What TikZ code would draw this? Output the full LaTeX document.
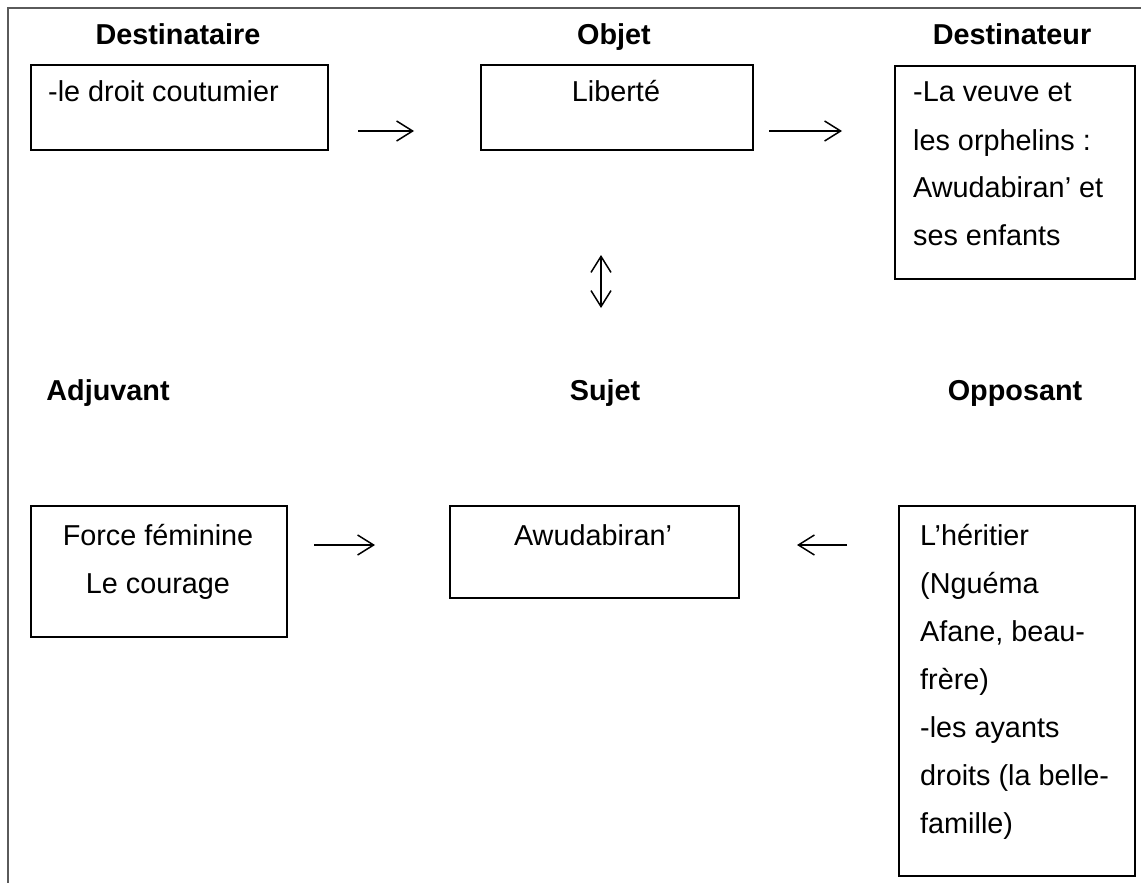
\documentclass[tikz,border=0pt]{standalone}
\usepackage{fontspec}
\setmainfont{Liberation Sans}
\usetikzlibrary{arrows.meta}
\definecolor{framegray}{RGB}{90,90,90}
\tikzset{
  box/.style={draw=black, line width=1.8pt, rectangle, inner sep=0pt, anchor=north west},
  ttl/.style={font=\fontsize{28.8pt}{48pt}\selectfont\bfseries, inner sep=0pt, anchor=base},
  txt/.style={font=\fontsize{28.8pt}{48pt}\selectfont, inner sep=0pt},
  barb/.tip={Straight Barb[length=16pt,width=20pt,line width=1.5pt]},
  arr/.style={line width=1.5pt, -barb},
  darr/.style={line width=1.5pt, barb-barb},
  frameline/.style={draw=framegray, line width=2pt}
}
\begin{document}
\begin{tikzpicture}[x=1pt,y=-1pt]
\useasboundingbox (0,0) rectangle (1141,883);
\draw[frameline] (1141,8) -- (8,8) -- (8,883);

% boxes
\node[box, minimum width=297pt, minimum height=85pt] (b1) at (30,64) {};
\node[box, minimum width=272pt, minimum height=85pt] (b2) at (480,64) {};
\node[box, minimum width=240pt, minimum height=213pt] (b3) at (894,65) {};
\node[box, minimum width=256pt, minimum height=131pt] (b4) at (30,505) {};
\node[box, minimum width=289pt, minimum height=92pt] (b5) at (449,505) {};
\node[box, minimum width=236pt, minimum height=370pt] (b6) at (898,505) {};

% titles
\node[ttl] (tdest) at (178,45) {Destinataire};
\node[ttl] (tobj) at (614,45) {Objet};
\node[ttl] (tdestr) at (1012,45) {Destinateur};
\node[ttl] (tadj) at (108,400) {Adjuvant};
\node[ttl] (tsuj) at (605,400) {Sujet};
\node[ttl] (topp) at (1015,400) {Opposant};

% texts
\node[txt, anchor=base west] (x1) at (48,102) {-le droit coutumier};
\node[txt, anchor=base] (x2) at (616,102) {Liberté};
\node[txt, anchor=base west] (x3) at (913,102) {\vtop{\baselineskip=48pt\hbox{-La veuve et}\hbox{les orphelins :}\hbox{Awudabiran’ et}\hbox{ses enfants}}};
\node[txt, anchor=base] (x4) at (158,545) {\vtop{\baselineskip=48pt\hbox to 0pt{\hss Force féminine\hss}\hbox to 0pt{\hss Le courage\hss}}};
\node[txt, anchor=base] (x5) at (593,545) {Awudabiran’};
\node[txt, anchor=base west] (x6) at (920,545) {\vtop{\baselineskip=48pt\hbox{L’héritier}\hbox{(Nguéma}\hbox{Afane, beau-}\hbox{frère)}\hbox{-les ayants}\hbox{droits (la belle-}\hbox{famille)}}};

% arrows
\coordinate (a1s) at (358,131); \coordinate (a1e) at (414,131);
\coordinate (a2s) at (769,131); \coordinate (a2e) at (842,131);
\coordinate (a3s) at (314,545); \coordinate (a3e) at (375,545);
\coordinate (a4s) at (847,545); \coordinate (a4e) at (797,545);
\coordinate (dts) at (601,255); \coordinate (dte) at (601,308);
\draw[arr] (a1s) -- (a1e);
\draw[arr] (a2s) -- (a2e);
\draw[arr] (a3s) -- (a3e);
\draw[arr] (a4s) -- (a4e);
\draw[darr] (dts) -- (dte);
\end{tikzpicture}
\end{document}
